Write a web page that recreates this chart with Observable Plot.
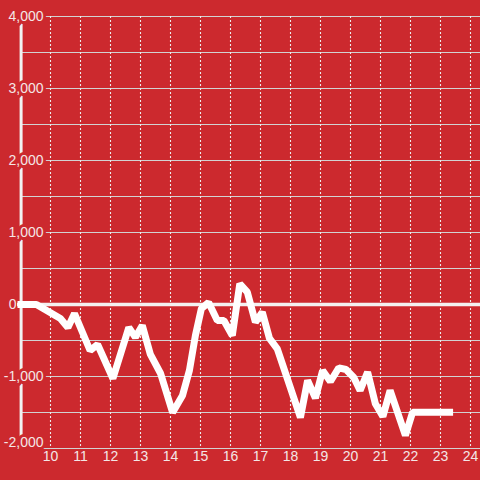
<!DOCTYPE html>
<html><head><meta charset="utf-8">
<script src="https://cdn.jsdelivr.net/npm/d3@7"></script>
<script src="https://cdn.jsdelivr.net/npm/@observablehq/plot@0.6"></script>
<style>html,body{margin:0;padding:0;background:#cc292e;} svg{display:block}</style>
</head><body><div id="chart"></div>
<script>
const hours = [8.9, 9.53, 10.33, 10.58, 10.8, 11.32, 11.57, 12.08, 12.61, 12.83, 13.06, 13.33, 13.67, 14.07, 14.4, 14.63, 14.83, 15.03, 15.27, 15.56, 15.78, 16.06, 16.31, 16.56, 16.83, 17.06, 17.3, 17.56, 18.33, 18.57, 18.83, 19.07, 19.33, 19.61, 19.85, 20.11, 20.32, 20.57, 20.83, 21.08, 21.32, 21.83, 22.07, 23.42];
const values = [0, 0, -194, -319, -125, -639, -556, -1028, -319, -454, -292, -694, -958, -1500, -1264, -917, -431, -56, 28, -222, -222, -431, 288, 171, -246, -107, -472, -615, -1569, -1056, -1299, -917, -1069, -879, -903, -1014, -1194, -940, -1379, -1556, -1194, -1819, -1496, -1496];
const xTicks = [10, 11, 12, 13, 14, 15, 16, 17, 18, 19, 20, 21, 22, 23, 24];
const yTicks = [-2000, -1000, 0, 1000, 2000, 3000, 4000];
const yGrid = [-2000, -1500, -1000, -500, 0, 500, 1000, 1500, 2000, 2500, 3000, 3500, 4000];
const bg = "#cc292e";
const textColor = "#f4e6e6";
const data = hours.map((h, i) => ({h, v: values[i]}));
const fmt = d => d.toLocaleString("en-US");
const font = "'Liberation Sans', Arial, sans-serif";

const chart = Plot.plot({
  width: 480, height: 480,
  marginLeft: 22, marginRight: 0, marginTop: 16, marginBottom: 34,
  style: {background: bg, fontFamily: font, fontSize: "14px"},
  x: {domain: [10, 24], range: [50, 470], axis: null},
  y: {domain: [-2000, 4000], range: [448, 16], axis: null},
  marks: [
    Plot.ruleY(yGrid, {stroke: "#d2d2d2", strokeWidth: 1.2}),
    Plot.ruleX(xTicks, {stroke: "#ececec", strokeDasharray: "2,2", strokeWidth: 1.1}),
    Plot.ruleX([9.02], {y1: -2000, y2: 4000, stroke: "#f2f2f2", strokeWidth: 3}),
    Plot.text(yTicks.filter(d => d > 0 || (d < 0 && d > -2000)), {frameAnchor: "left", y: d => d, text: fmt, textAnchor: "end", dx: 21, fontSize: 14, fill: textColor, stroke: bg, strokeWidth: 6, paintOrder: "stroke"}),
    Plot.text(yTicks.filter(d => d === 0), {frameAnchor: "left", y: d => d, text: fmt, textAnchor: "end", dx: -6, fontSize: 14, fill: textColor, stroke: bg, strokeWidth: 6, paintOrder: "stroke"}),
    Plot.text(yTicks.filter(d => d === -2000), {frameAnchor: "left", y: d => d, text: fmt, textAnchor: "end", dx: 21, dy: -6, fontSize: 14, fill: textColor, stroke: bg, strokeWidth: 6, paintOrder: "stroke"}),
    Plot.text(xTicks, {x: d => d, frameAnchor: "bottom", text: d => String(d), dy: 14.5, fontSize: 14, fill: textColor}),
    Plot.ruleY([0], {x1: 8.9, x2: 24.4, stroke: "#f4f0f0", strokeWidth: 3.3}),
    Plot.line(data, {x: "h", y: "v", stroke: "#ffffff", strokeWidth: 7, strokeLinejoin: "miter", strokeLinecap: "butt"})
  ]
});
document.getElementById("chart").append(chart);
</script>
</body></html>
